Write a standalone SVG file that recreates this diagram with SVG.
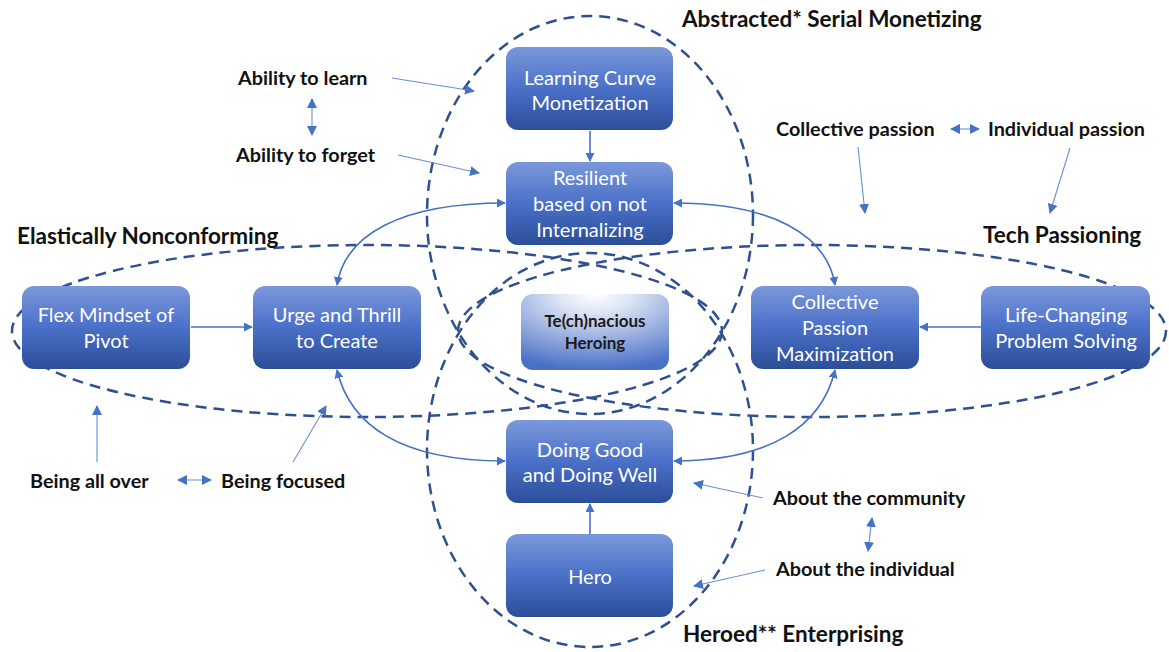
<svg xmlns="http://www.w3.org/2000/svg" width="1169" height="652" viewBox="0 0 1169 652">
<defs>
<linearGradient id="boxg" x1="0" y1="0" x2="0" y2="1">
<stop offset="0" stop-color="#7b98da"/>
<stop offset="0.5" stop-color="#4a70c8"/>
<stop offset="1" stop-color="#2c4e98"/>
</linearGradient>
<radialGradient id="centg" cx="0.5" cy="0" r="1" fx="0.5" fy="0">
<stop offset="0" stop-color="#ffffff"/>
<stop offset="0.25" stop-color="#dde5f5"/>
<stop offset="1" stop-color="#4a70c6"/>
</radialGradient>
<marker id="ah" viewBox="0 0 10 10" refX="9" refY="5" markerWidth="9" markerHeight="9" markerUnits="userSpaceOnUse" orient="auto-start-reverse">
<path d="M0,0 L10,5 L0,10 z" fill="#4472c4"/>
</marker>
<marker id="ah2" viewBox="0 0 10 10" refX="9" refY="5" markerWidth="10" markerHeight="10" markerUnits="userSpaceOnUse" orient="auto-start-reverse">
<path d="M0,0 L10,5 L0,10 z" fill="#4472c4"/>
</marker>
<style>
.box{fill:url(#boxg);}
.bt{font-family:Lato,"Liberation Sans",sans-serif;font-size:20px;fill:#ffffff;text-anchor:middle;}
.ct{font-family:Lato,"Liberation Sans",sans-serif;font-size:17px;font-weight:bold;fill:#1a1a1a;text-anchor:middle;}
.ttl{font-family:Lato,"Liberation Sans",sans-serif;font-size:22.5px;font-weight:bold;fill:#111111;}
.ann{font-family:Lato,"Liberation Sans",sans-serif;font-size:19.8px;font-weight:bold;fill:#111111;}
.ell{fill:none;stroke:#2f5090;stroke-width:2.5;stroke-dasharray:11 7;}
.con{fill:none;stroke:#4472c4;stroke-width:1.6;}
.an{fill:none;stroke:#6a8fd6;stroke-width:1.1;}
</style>
</defs>
<rect x="0" y="0" width="1169" height="652" fill="#ffffff"/>

<g id="ellipses">
<ellipse class="ell" cx="590" cy="215" rx="163" ry="199"/>
<ellipse class="ell" cx="590" cy="450" rx="163" ry="197"/>
<ellipse class="ell" cx="367" cy="331" rx="355" ry="86"/>
<ellipse class="ell" cx="812" cy="331" rx="354" ry="86"/>
</g>

<g id="titles">
<text class="ttl" x="682" y="27">Abstracted* Serial Monetizing</text>
<text class="ttl" x="17" y="244">Elastically Nonconforming</text>
<text class="ttl" x="983" y="243">Tech Passioning</text>
<text class="ttl" x="683" y="642">Heroed** Enterprising</text>
</g>

<g id="connectors">
<line class="con" x1="590" y1="131" x2="590" y2="161" marker-end="url(#ah)"/>
<line class="con" x1="191" y1="327" x2="252" y2="327" marker-end="url(#ah)"/>
<line class="con" x1="981" y1="327" x2="920" y2="327" marker-end="url(#ah)"/>
<line class="con" x1="590" y1="534" x2="590" y2="504" marker-end="url(#ah)"/>
<path class="con" d="M337,285 C345,235 400,203 505,203" marker-start="url(#ah)" marker-end="url(#ah)"/>
<path class="con" d="M835,285 C827,235 772,203 674,203" marker-start="url(#ah)" marker-end="url(#ah)"/>
<path class="con" d="M337,370 C350,425 400,461 505,461" marker-start="url(#ah)" marker-end="url(#ah)"/>
<path class="con" d="M835,370 C822,425 772,461 674,461" marker-start="url(#ah)" marker-end="url(#ah)"/>
<line class="an" x1="392" y1="78" x2="474" y2="91" marker-end="url(#ah2)"/>
<line class="an" x1="398" y1="155" x2="479" y2="173" marker-end="url(#ah2)"/>
<line class="an" x1="312" y1="99" x2="312" y2="135" marker-start="url(#ah2)" marker-end="url(#ah2)"/>
<line class="an" x1="858" y1="147" x2="865" y2="213" marker-end="url(#ah2)"/>
<line class="an" x1="951" y1="129" x2="979" y2="129" marker-start="url(#ah2)" marker-end="url(#ah2)"/>
<line class="an" x1="1070" y1="148" x2="1050" y2="213" marker-end="url(#ah2)"/>
<line class="an" x1="97" y1="462" x2="97" y2="406" marker-end="url(#ah2)"/>
<line class="an" x1="178" y1="480" x2="211" y2="480" marker-start="url(#ah2)" marker-end="url(#ah2)"/>
<line class="an" x1="293" y1="462" x2="326" y2="406" marker-end="url(#ah2)"/>
<line class="an" x1="763" y1="498" x2="694" y2="483" marker-end="url(#ah2)"/>
<line class="an" x1="872" y1="518" x2="868" y2="551" marker-start="url(#ah2)" marker-end="url(#ah2)"/>
<line class="an" x1="765" y1="570" x2="694" y2="586" marker-end="url(#ah2)"/>
</g>

<g id="annotations">
<text class="ann" x="238" y="85">Ability to learn</text>
<text class="ann" x="236" y="162">Ability to forget</text>
<text class="ann" x="776" y="136">Collective passion</text>
<text class="ann" x="988" y="136">Individual passion</text>
<text class="ann" x="30" y="488">Being all over</text>
<text class="ann" x="221" y="488">Being focused</text>
<text class="ann" x="773" y="505">About the community</text>
<text class="ann" x="776" y="576">About the individual</text>
</g>

<g id="n-learning">
<rect class="box" x="506" y="47" width="167" height="83" rx="12"/>
<text class="bt" x="590" y="85">Learning Curve</text>
<text class="bt" x="590" y="110">Monetization</text>
</g>
<g id="n-resilient">
<rect class="box" x="506" y="162" width="167" height="83" rx="12"/>
<text class="bt" x="590" y="185">Resilient</text>
<text class="bt" x="590" y="211">based on not</text>
<text class="bt" x="590" y="237">Internalizing</text>
</g>
<g id="n-flex">
<rect class="box" x="22" y="286" width="168" height="83" rx="12"/>
<text class="bt" x="106" y="322">Flex Mindset of</text>
<text class="bt" x="106" y="348">Pivot</text>
</g>
<g id="n-urge">
<rect class="box" x="253" y="286" width="168" height="83" rx="12"/>
<text class="bt" x="337" y="322">Urge and Thrill</text>
<text class="bt" x="337" y="348">to Create</text>
</g>
<g id="n-center">
<rect x="521" y="294" width="148" height="76" rx="12" fill="url(#centg)"/>
<text class="ct" x="595" y="327">Te(ch)nacious</text>
<text class="ct" x="595" y="349">Heroing</text>
</g>
<g id="n-collective">
<rect class="box" x="751" y="286" width="168" height="83" rx="12"/>
<text class="bt" x="835" y="309">Collective</text>
<text class="bt" x="835" y="335">Passion</text>
<text class="bt" x="835" y="361">Maximization</text>
</g>
<g id="n-life">
<rect class="box" x="981" y="286" width="169" height="83" rx="12"/>
<text class="bt" x="1066" y="322">Life-Changing</text>
<text class="bt" x="1066" y="348">Problem Solving</text>
</g>
<g id="n-doing">
<rect class="box" x="506" y="420" width="167" height="83" rx="12"/>
<text class="bt" x="590" y="457">Doing Good</text>
<text class="bt" x="590" y="482">and Doing Well</text>
</g>
<g id="n-hero">
<rect class="box" x="506" y="534" width="167" height="83" rx="12"/>
<text class="bt" x="590" y="584">Hero</text>
</g>
</svg>
